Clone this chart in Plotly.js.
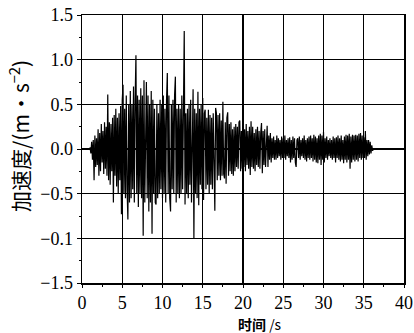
<!DOCTYPE html>
<html>
<head>
<meta charset="utf-8">
<script src="https://cdn.plot.ly/plotly-3.0.1.min.js"></script>
<style>html,body{margin:0;padding:0;background:#fff;}#chart{width:414px;height:333px;}</style>
</head>
<body>
<div id="chart"></div>
<script>
// Acceleration record (m/s^2), sampled every 0.1 s starting at t = 1.0 s
const startTime = 1.0;
const timeStep = 0.1;
const accel = [
0.02,-0.05,0.08,-0.12,0.1,-0.35,0.15,-0.2,0.12,-0.18,
0.22,-0.3,0.18,-0.25,0.28,-0.15,0.2,-0.28,0.3,-0.22,
0.25,-0.3,0.61,-0.35,0.3,-0.4,0.28,-0.25,0.35,-0.6,
0.38,-0.3,0.45,-0.42,0.35,-0.5,0.4,-0.35,0.48,-0.73,
0.55,0.72,-0.5,0.45,-0.55,0.6,-0.45,-0.79,0.5,-0.6,
0.65,-0.55,0.5,-0.45,0.7,-0.6,0.55,1.05,-0.5,0.6,
-0.65,0.55,-0.5,0.68,-0.55,0.6,-0.97,0.77,-0.6,0.5,
0.75,-0.55,0.6,-0.7,0.5,-0.6,0.65,-0.95,0.55,-0.5,
0.45,-0.6,-0.62,0.5,-0.55,0.4,-0.5,0.55,-0.45,0.5,
-0.55,0.6,-0.5,0.45,-0.6,0.55,0.85,-0.5,0.6,-0.55,
-0.7,0.5,-0.45,0.55,-0.5,0.6,0.81,-0.6,0.45,-0.5,
0.5,-0.55,0.45,-0.5,0.6,-0.45,0.55,1.32,-0.62,0.4,
-0.5,0.45,-0.55,0.5,-0.4,0.55,-0.6,0.5,0.67,-1.0,
0.45,-0.5,0.4,-0.55,0.64,-0.63,0.45,-0.4,0.5,-0.45,
0.57,-0.57,0.4,0.44,-0.45,0.35,-0.4,0.44,-0.5,0.38,
-0.4,0.35,-0.45,0.4,-0.5,-0.69,0.46,0.4,-0.35,0.38,
-0.3,0.4,-0.35,0.32,-0.3,0.53,-0.28,-0.33,0.3,-0.39,
0.35,0.41,-0.3,0.28,-0.25,0.3,-0.28,0.22,-0.3,0.25,
-0.25,0.28,-0.2,0.25,-0.22,0.3,0.32,-0.25,0.2,-0.22,
0.25,-0.2,0.22,-0.25,0.28,-0.18,0.2,-0.22,0.25,-0.29,
0.31,-0.2,0.25,-0.22,0.18,-0.25,0.22,-0.18,0.25,-0.2,
0.2,-0.22,0.18,0.29,-0.27,0.2,-0.18,0.22,-0.2,0.15,
0.26,-0.2,0.15,-0.12,0.18,-0.15,0.12,-0.1,0.14,-0.12,
0.1,-0.12,0.15,-0.1,0.12,-0.08,0.1,-0.12,0.14,-0.1,
0.12,-0.1,0.15,-0.12,0.1,-0.08,0.12,-0.1,0.13,-0.15,
0.1,-0.12,0.14,-0.1,0.12,-0.15,-0.2,0.1,0.12,-0.1,
0.14,-0.12,0.1,-0.08,0.12,-0.1,0.15,-0.12,0.1,-0.14,
0.12,-0.1,0.14,-0.12,0.15,-0.1,0.12,-0.14,0.16,-0.12,
0.14,-0.15,0.12,-0.16,0.15,-0.12,0.17,-0.18,0.15,-0.12,
0.19,-0.15,0.12,-0.1,0.14,-0.12,0.1,-0.08,0.12,-0.1,
0.1,-0.12,0.14,-0.1,0.12,-0.15,0.13,-0.1,0.15,-0.12,
0.12,-0.14,0.15,-0.12,0.1,-0.16,0.14,-0.12,0.16,-0.15,
0.15,-0.12,0.17,-0.22,0.14,-0.15,0.16,-0.12,0.15,-0.14,
0.16,-0.12,0.15,-0.14,0.17,-0.1,0.18,-0.12,0.15,-0.1,
0.13,-0.1,0.2,-0.12,0.1,-0.08,0.1,-0.06,0.08,-0.05,
0.04,-0.02,0.0
];
const xTickVals = [0,5,10,15,20,25,30,35,40];
const yTickVals = [-1.5,-1.0,-0.5,0.0,0.5,1.0,1.5];
const yTickText = ["\u22121.5","\u22120.1","\u22120.5","0.0","0.5","1.0","1.5"];
const xTitle = "<b>时间</b> /s";
const yTitle = "加速度/(m·s<sup>\u22122</sup>)";

const t = accel.map((_, i) => +(startTime + i * timeStep).toFixed(2));

const serif = "Times New Roman, Liberation Serif, DejaVu Serif, serif";
Plotly.newPlot("chart", [{
  x: t, y: accel, type: "scatter", mode: "lines",
  line: {color: "#000", width: 1.2}, hoverinfo: "skip"
}], {
  width: 414, height: 333,
  margin: {l: 82, r: 10, t: 15, b: 50},
  paper_bgcolor: "#fff", plot_bgcolor: "#fff",
  showlegend: false,
  font: {family: serif, color: "#000"},
  xaxis: {
    range: [0, 40], tickvals: xTickVals, ticktext: xTickVals.map(String),
    showgrid: true, gridcolor: "#000", gridwidth: 1.2,
    zeroline: false, showline: true, linecolor: "#000", linewidth: 1.5, mirror: true,
    ticks: "outside", ticklen: 3, tickcolor: "#000",
    minor: {dtick: 2.5, ticks: "outside", ticklen: 2, tickcolor: "#000", showgrid: false},
    tickfont: {family: serif, size: 18, color: "#000"}
  },
  yaxis: {
    range: [-1.5, 1.5], tickvals: yTickVals, ticktext: yTickText,
    showgrid: true, gridcolor: "#000", gridwidth: 1.2,
    zeroline: false, showline: true, linecolor: "#000", linewidth: 1.5, mirror: true,
    ticks: "outside", ticklen: 4, tickcolor: "#000",
    minor: {dtick: 0.25, ticks: "outside", ticklen: 2, tickcolor: "#000", showgrid: false},
    tickfont: {family: serif, size: 18, color: "#000"}
  },
  annotations: [
    {text: xTitle, xref: "paper", yref: "paper", x: 0.553, y: -0.152,
     xanchor: "center", yanchor: "middle", showarrow: false,
     font: {family: "Noto Sans CJK SC, " + serif, size: 14, color: "#000"}},
    {text: yTitle, xref: "paper", yref: "paper", x: -0.196, y: 0.5485,
     xanchor: "center", yanchor: "middle", showarrow: false, textangle: -90,
     font: {family: "Noto Sans CJK SC, " + serif, size: 21, color: "#000"}}
  ]
}, {staticPlot: true, displayModeBar: false});
</script>
</body>
</html>
